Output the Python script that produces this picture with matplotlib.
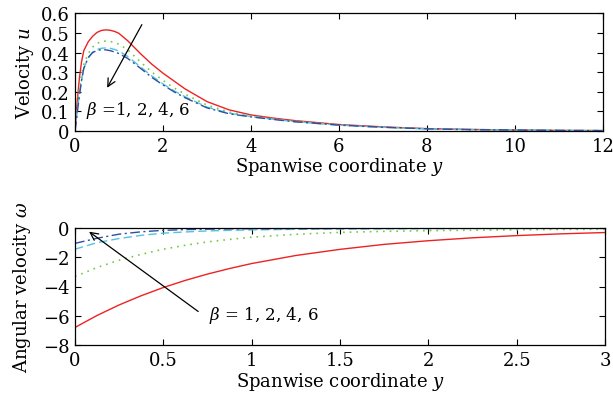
import matplotlib
matplotlib.use("Agg")
import matplotlib.pyplot as plt

# ---- data: top panel (velocity u vs spanwise coordinate y) ----
y_u = [0, 0.05, 0.1, 0.15, 0.2, 0.3, 0.4, 0.5, 0.6, 0.7, 0.8, 0.9, 1.0, 1.2, 1.5,
       1.75, 2.0, 2.25, 2.5, 3.0, 3.5, 4.0, 4.5, 5.0, 6.0, 7.0, 8.0, 9.0, 10.0, 11.0, 12.0]
u_b1 = [0, 0.15, 0.27, 0.355, 0.41, 0.455, 0.483, 0.503, 0.513, 0.516, 0.514, 0.508, 0.498, 0.46, 0.392,
        0.34, 0.295, 0.255, 0.215, 0.150, 0.108, 0.082, 0.066, 0.053, 0.033, 0.021, 0.012, 0.008, 0.005, 0.003, 0.002]
u_b2 = [0, 0.12, 0.22, 0.29, 0.34, 0.395, 0.428, 0.447, 0.456, 0.459, 0.457, 0.451, 0.443, 0.414, 0.35,
        0.30, 0.258, 0.22, 0.188, 0.132, 0.097, 0.077, 0.062, 0.050, 0.031, 0.019, 0.011, 0.007, 0.005, 0.003, 0.002]
u_b4 = [0, 0.10, 0.19, 0.26, 0.32, 0.372, 0.402, 0.416, 0.422, 0.424, 0.422, 0.416, 0.408, 0.38, 0.325,
        0.28, 0.24, 0.205, 0.175, 0.122, 0.091, 0.074, 0.060, 0.048, 0.030, 0.019, 0.011, 0.007, 0.005, 0.003, 0.002]
u_b6 = [0, 0.09, 0.18, 0.26, 0.32, 0.375, 0.400, 0.411, 0.415, 0.414, 0.41, 0.403, 0.395, 0.37, 0.318,
        0.273, 0.235, 0.2, 0.17, 0.118, 0.088, 0.072, 0.059, 0.047, 0.030, 0.019, 0.011, 0.007, 0.005, 0.003, 0.002]

# ---- data: bottom panel (angular velocity omega vs y) ----
y_w = [0, 0.125, 0.25, 0.375, 0.5, 0.625, 0.75, 0.875, 1.0, 1.25, 1.5, 1.75, 2.0, 2.25, 2.5, 2.75, 3.0]
w_b1 = [-6.8, -5.98, -5.26, -4.63, -4.07, -3.58, -3.15, -2.77, -2.43, -1.88, -1.46, -1.12, -0.87, -0.67, -0.52, -0.40, -0.31]
w_b2 = [-3.32, -2.70, -2.20, -1.80, -1.45, -1.18, -0.95, -0.78, -0.63, -0.43, -0.30, -0.23, -0.18, -0.15, -0.12, -0.10, -0.08]
w_b4 = [-1.45, -1.00, -0.72, -0.50, -0.35, -0.27, -0.20, -0.16, -0.13, -0.09, -0.07, -0.06, -0.05, -0.04, -0.035, -0.03, -0.03]
w_b6 = [-1.05, -0.70, -0.42, -0.26, -0.16, -0.11, -0.08, -0.06, -0.05, -0.04, -0.03, -0.025, -0.02, -0.015, -0.012, -0.01, -0.01]

u_ticks = [0, 0.1, 0.2, 0.3, 0.4, 0.5, 0.6]
u_ticklabels = ["0", "0.1", "0.2", "0.3", "0.4", "0.5", "0.6"]
yu_ticks = [0, 2, 4, 6, 8, 10, 12]
w_ticks = [-8, -6, -4, -2, 0]
yw_ticks = [0, 0.5, 1, 1.5, 2, 2.5, 3]
yw_ticklabels = ["0", "0.5", "1", "1.5", "2", "2.5", "3"]

plt.rcParams['font.family'] = ['DejaVu Serif']
plt.rcParams['mathtext.fontset'] = 'dejavuserif'
FS = 13
FS_TXT = 12

styles = [
    dict(color='#ee2222', linestyle='-', lw=1.0),
    dict(color='#77c944', linestyle=(0, (1, 3)), lw=1.2),
    dict(color='#55c3dd', linestyle=(0, (6, 3)), lw=1.0),
    dict(color='#2b4fa6', linestyle=(0, (7, 2.5, 1.5, 2.5)), lw=1.0),
]

fig = plt.figure(figsize=(6.13, 4.02), dpi=100)
ax1 = fig.add_axes([75/613, 1-132/402, 528/613, 117.6/402])
ax2 = fig.add_axes([75/613, 1-346/402, 530/613, 117/402])

for vals, st in zip([u_b1, u_b2, u_b4, u_b6], styles):
    ax1.plot(y_u, vals, **st)
for vals, st in zip([w_b1, w_b2, w_b4, w_b6], styles):
    ax2.plot(y_w, vals, **st)

ax1.set_xlim(0, 12)
ax1.set_ylim(0, 0.6)
ax1.set_xticks(yu_ticks)
ax1.set_yticks(u_ticks)
ax1.set_yticklabels(u_ticklabels)
ax1.set_xlabel('Spanwise coordinate $y$', fontsize=FS, labelpad=0)
ax1.set_ylabel('Velocity $u$', fontsize=FS, labelpad=3)

ax2.set_xlim(0, 3)
ax2.set_ylim(-8, 0)
ax2.set_xticks(yw_ticks)
ax2.set_xticklabels(yw_ticklabels)
ax2.set_yticks(w_ticks)
ax2.set_xlabel('Spanwise coordinate $y$', fontsize=FS, labelpad=1)
ax2.set_ylabel('Angular velocity $\\omega$', fontsize=FS, labelpad=7)

for ax in (ax1, ax2):
    ax.tick_params(direction='in', top=True, right=True, labelsize=FS, length=4, width=0.8, pad=4)
    for s in ax.spines.values():
        s.set_linewidth(0.9)

ax1.annotate('', xy=(0.70, 0.208), xytext=(1.55, 0.555),
             arrowprops=dict(arrowstyle='->', color='black', lw=0.9, mutation_scale=14))
ax1.text(0.24, 0.109, '$\\beta$ =1, 2, 4, 6', fontsize=FS_TXT, va='center', ha='left')

ax2.annotate('', xy=(0.067, -0.14), xytext=(0.71, -5.82),
             arrowprops=dict(arrowstyle='->', color='black', lw=0.9, mutation_scale=14))
ax2.text(0.76, -5.94, '$\\beta$ = 1, 2, 4, 6', fontsize=FS_TXT, va='center', ha='left')

fig.savefig('out.png', dpi=100)
